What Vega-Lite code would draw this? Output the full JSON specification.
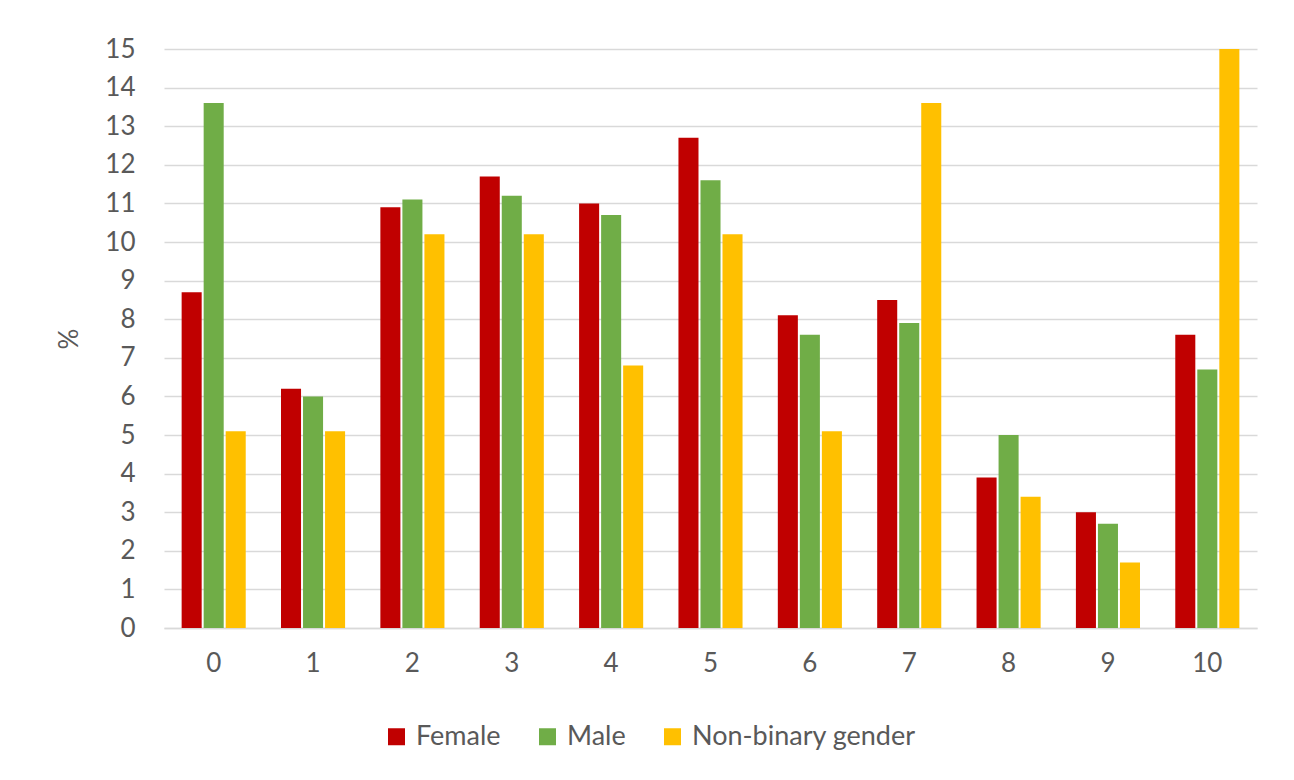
{
  "$schema": "https://vega.github.io/schema/vega-lite/v6.json",
  "width": 1093,
  "height": 579,
  "autosize": {"type": "none"},
  "padding": {"left": 164, "top": 49, "right": 37, "bottom": 152},
  "background": "white",
  "config": {
    "view": {"stroke": null},
    "font": "Lato",
    "axis": {"labelFont": "Lato", "titleFont": "Lato", "labelColor": "#595959", "titleColor": "#595959"},
    "legend": {"labelFont": "Lato"}
  },
  "data": {
    "values": [
      {"score": 0, "gender": "Female", "pct": 8.7},
      {"score": 0, "gender": "Male", "pct": 13.6},
      {"score": 0, "gender": "Non-binary gender", "pct": 5.1},
      {"score": 1, "gender": "Female", "pct": 6.2},
      {"score": 1, "gender": "Male", "pct": 6.0},
      {"score": 1, "gender": "Non-binary gender", "pct": 5.1},
      {"score": 2, "gender": "Female", "pct": 10.9},
      {"score": 2, "gender": "Male", "pct": 11.1},
      {"score": 2, "gender": "Non-binary gender", "pct": 10.2},
      {"score": 3, "gender": "Female", "pct": 11.7},
      {"score": 3, "gender": "Male", "pct": 11.2},
      {"score": 3, "gender": "Non-binary gender", "pct": 10.2},
      {"score": 4, "gender": "Female", "pct": 11.0},
      {"score": 4, "gender": "Male", "pct": 10.7},
      {"score": 4, "gender": "Non-binary gender", "pct": 6.8},
      {"score": 5, "gender": "Female", "pct": 12.7},
      {"score": 5, "gender": "Male", "pct": 11.6},
      {"score": 5, "gender": "Non-binary gender", "pct": 10.2},
      {"score": 6, "gender": "Female", "pct": 8.1},
      {"score": 6, "gender": "Male", "pct": 7.6},
      {"score": 6, "gender": "Non-binary gender", "pct": 5.1},
      {"score": 7, "gender": "Female", "pct": 8.5},
      {"score": 7, "gender": "Male", "pct": 7.9},
      {"score": 7, "gender": "Non-binary gender", "pct": 13.6},
      {"score": 8, "gender": "Female", "pct": 3.9},
      {"score": 8, "gender": "Male", "pct": 5.0},
      {"score": 8, "gender": "Non-binary gender", "pct": 3.4},
      {"score": 9, "gender": "Female", "pct": 3.0},
      {"score": 9, "gender": "Male", "pct": 2.7},
      {"score": 9, "gender": "Non-binary gender", "pct": 1.7},
      {"score": 10, "gender": "Female", "pct": 7.6},
      {"score": 10, "gender": "Male", "pct": 6.7},
      {"score": 10, "gender": "Non-binary gender", "pct": 15.0}
    ]
  },
  "mark": {"type": "bar"},
  "encoding": {
    "x": {
      "field": "score",
      "type": "ordinal",
      "scale": {"paddingInner": 0.355, "paddingOuter": 0.1775},
      "axis": {
        "title": null,
        "labelAngle": 0,
        "ticks": false,
        "domain": true,
        "domainColor": "#d9d9d9",
        "domainWidth": 1.5,
        "labelFontSize": 26,
        "labelPadding": 22
      }
    },
    "xOffset": {
      "field": "gender",
      "sort": ["Female", "Male", "Non-binary gender"],
      "scale": {"paddingInner": 0.09}
    },
    "y": {
      "field": "pct",
      "type": "quantitative",
      "scale": {"domain": [0, 15]},
      "axis": {
        "values": [0, 1, 2, 3, 4, 5, 6, 7, 8, 9, 10, 11, 12, 13, 14, 15],
        "title": "%",
        "titleFontSize": 26,
        "titleFontWeight": "normal",
        "titlePadding": 22,
        "labelFontSize": 26,
        "labelPadding": 29,
        "ticks": false,
        "domain": false,
        "grid": true,
        "gridColor": "#d9d9d9",
        "gridWidth": 1.5
      }
    },
    "color": {
      "field": "gender",
      "type": "nominal",
      "sort": ["Female", "Male", "Non-binary gender"],
      "scale": {
        "domain": ["Female", "Male", "Non-binary gender"],
        "range": ["#C00000", "#70AD47", "#FFC000"]
      },
      "legend": {
        "title": null,
        "orient": "none",
        "direction": "horizontal",
        "legendX": 219,
        "legendY": 674,
        "symbolType": "square",
        "symbolSize": 289,
        "symbolStrokeWidth": 0,
        "labelFontSize": 27,
        "labelLimit": 400,
        "labelColor": "#595959",
        "labelOffset": 6,
        "columnPadding": 33
      }
    }
  }
}
